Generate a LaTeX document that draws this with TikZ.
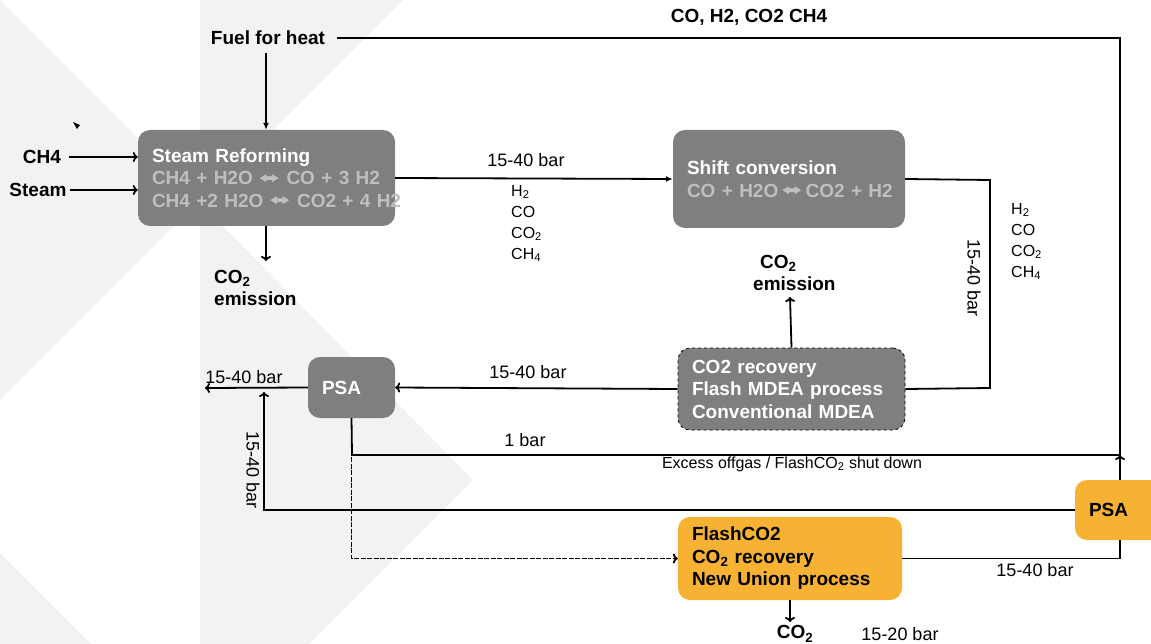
\documentclass[tikz,border=0pt]{standalone}
\usepackage{fontspec}
\setmainfont{Liberation Sans}
\newfontfamily\arrowfont{DejaVu Sans}
\usetikzlibrary{arrows.meta}
\definecolor{bggray}{HTML}{F2F2F2}
\definecolor{boxgray}{HTML}{7F7F7F}
\definecolor{eqgray}{HTML}{BFBFBF}
\definecolor{flashorange}{HTML}{F7B234}
\newcommand{\eqarrow}{\raisebox{1.5pt}{\resizebox{21pt}{9pt}{\arrowfont ⬌}}}
\newcommand{\sbt}[1]{\textsubscript{#1}}
\begin{document}
\begin{tikzpicture}[x=1pt,y=-1pt,
  box/.style={rounded corners=12pt,fill=boxgray,text=white,align=left,
    font=\bfseries\fontsize{19}{22.5}\selectfont,inner xsep=14pt,inner ysep=0pt},
  orangebox/.style={box,fill=flashorange,text=black},
  lbl/.style={font=\bfseries\fontsize{19}{22}\selectfont,inner sep=0pt},
  bar/.style={font=\fontsize{18}{21}\selectfont,inner sep=0pt},
  small/.style={font=\fontsize{16}{21}\selectfont,inner sep=0pt,align=left},
  pipe/.style={line width=1.8pt},
  flow/.style={pipe,-{To[length=5pt,width=10pt]}},
  feed/.style={pipe,-{Latex[length=7pt,width=6pt]}},
  bypass/.style={flow,dash pattern=on 5pt off 1.5pt}]
\useasboundingbox (0,0) rectangle (1151,644);
\clip (0,0) rectangle (1151,644);
% background
\fill[bggray] (0,0) -- (200,200) -- (0,400) -- cycle;
\fill[bggray] (0,553) -- (91,644) -- (0,644) -- cycle;
\fill[bggray] (200,0) -- (403,0) -- (200,203) -- cycle;
\fill[bggray] (200,203) -- (473,480) -- (309,644) -- (200,644) -- cycle;
\fill (73,122) -- (80,125) -- (77,129) -- cycle;
% units
\node[box,text width=229pt,minimum height=96pt] (sr) at (266.5,178)
  {Steam Reforming\\
   \textcolor{eqgray}{CH4 + H2O \eqarrow\ CO + 3 H2}\\
   \textcolor{eqgray}{\mbox{CH4 +2 H2O \eqarrow\ CO2 + 4 H2}}};
\node[box,text width=204pt,minimum height=98pt] (shift) at (789,179)
  {Shift conversion\\
   \textcolor{eqgray}{\mbox{CO + H2O\,\eqarrow\,CO2 + H2}}};
\node[box,draw,dashed,thick,text width=199pt,minimum height=82pt] (rec) at (791.5,389)
  {CO2 recovery\\Flash MDEA process\\Conventional MDEA};
\node[box,text width=59pt,minimum height=61pt] (psa) at (351.5,387.5) {PSA};
\node[orangebox,text width=196pt,minimum height=83pt] (flash) at (790,558.5)
  {FlashCO2\\CO\sbt{2} recovery\\New Union process};
\node[orangebox,text width=62pt,minimum height=60pt] (psab) at (1120,510) {PSA};
% labels
\node[lbl] (fuel) at (268,38) {Fuel for heat};
\node[lbl] (offgas) at (749,17) {CO, H2, CO2 CH4};
\node[lbl] (ch4) at (42,157) {CH4};
\node[lbl] (steam) at (38,190) {Steam};
\node[lbl,align=left,anchor=north west] (emA) at (214,270) {CO\sbt{2}\\emission};
\node[lbl,align=left,anchor=north west] (emB) at (753,255) {\hspace{7pt}CO\sbt{2}\\emission};
\node[lbl] (co2out) at (795,634) {CO\sbt{2}};
\node[bar] (barA) at (526,160) {15-40 bar};
\node[bar,rotate=-90] (barB) at (974,278) {15-40 bar};
\node[bar] (barC) at (528,372) {15-40 bar};
\node[bar] (barD) at (244,377) {15-40 bar};
\node[bar,rotate=-90] (barE) at (253,470) {15-40 bar};
\node[bar] (barF) at (525,440) {1 bar};
\node[bar] (barG) at (1035,570) {15-40 bar};
\node[bar] (barH) at (900,634) {15-20 bar};
\node[small] (excess) at (792,464) {Excess offgas / FlashCO\sbt{2} shut down};
\node[small,anchor=north west] (gasA) at (511,185) {H\sbt{2}\\CO\\CO\sbt{2}\\CH\sbt{4}};
\node[small,anchor=north west] (gasB) at (1011,203) {H\sbt{2}\\CO\\CO\sbt{2}\\CH\sbt{4}};
% corners
\coordinate (topR) at (1120,38);
\coordinate (join) at (1120,455);
\coordinate (psaOut) at (205,388);
\coordinate (backIn) at (264,392);
% connectors
\draw[flow] (ch4.east) ++(8,0) -- (ch4.east -| sr.west);
\draw[flow] (steam.east) ++(3,0) -- (steam.east -| sr.west);
\draw[feed] (fuel.south) ++(-2,8) -- (sr.north -| 266,0);
\draw[flow] (sr.south -| 266,0) -- (266,261);
\draw[feed] (sr.east) -- (shift.west);
\draw[pipe] (shift.east) -- (990,180) -- (990,388) -- (rec.east);
\draw[flow] (rec.north) -- (790,297);
\draw[flow] (rec.west) -- (psa.east);
\draw[flow] (psa.west) -- (psaOut);
\draw[flow] (psab.west) -- (264,510) -- (backIn);
\draw[pipe] (psa.south) -- (352,455) -- (join) -- (topR) -- ([xshift=12pt]fuel.east);
\draw[flow] (psab.north) -- (join);
\draw[bypass] (psa.south) -- (psa.south |- flash.west) -- (flash.west);
\draw[pipe] (flash.east) -- (flash.east -| psab.south) -- (psab.south);
\draw[flow] (flash.south) -- (790,622);
\end{tikzpicture}
\end{document}
